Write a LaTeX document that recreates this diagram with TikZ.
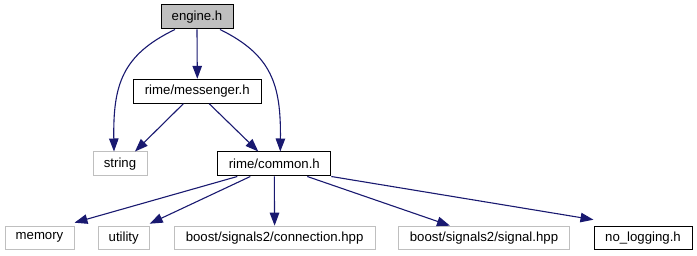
\documentclass[tikz,border=0pt]{standalone}
\usepackage{fontspec}
\setmainfont{Liberation Sans}
\usetikzlibrary{arrows.meta}
\definecolor{edgeblue}{HTML}{191970}
\definecolor{boxgray}{HTML}{BFBFBF}
\begin{document}
\begin{tikzpicture}[x=1pt,y=-1pt,
  file/.style={draw=black,line width=1pt,minimum height=24pt,inner sep=0pt,
    font=\fontsize{13.2}{15}\selectfont},
  extfile/.style={file,draw=boxgray,minimum height=23pt},
  rootfile/.style={file,fill=boxgray},
  dep/.style={draw=edgeblue,line width=1.1pt,
    -{Triangle[length=13pt,width=9.5pt,fill=edgeblue]}}]
\useasboundingbox (0,0) rectangle (697,256);

% include graph nodes
\node[rootfile,minimum width=72pt]  (engine)    at (197,17)    {engine.h};
\node[file,minimum width=128pt]     (messenger) at (197.3,91.3){rime/messenger.h};
\node[extfile,minimum width=54pt,minimum height=24pt] (string) at (120,164) {string};
\node[file,minimum width=113pt]     (common)    at (274.3,164) {rime/common.h};
\node[extfile,minimum width=69pt]   (memory)    at (39.5,237.7){memory};
\node[extfile,minimum width=51pt]   (utility)   at (123.7,237.7){utility};
\node[extfile,minimum width=201pt]  (connection) at (274.6,237.7){boost/signals2/connection.hpp};
\node[extfile,minimum width=171pt]  (signal)    at (484,237.7) {boost/signals2/signal.hpp};
\node[file,minimum width=98pt,minimum height=23pt] (nolog) at (643,237.7) {no\_logging.h};

% include edges
\draw[dep] ([xshift=-22pt]engine.south) .. controls (122,55) and (113,85) .. ([xshift=-6pt]string.north);
\draw[dep] (engine.south) -- (messenger.north);
\draw[dep] ([xshift=23pt]engine.south) .. controls (272,55) and (281,85) .. ([xshift=6pt]common.north);
\draw[dep] ([xshift=-14pt]messenger.south) -- ([xshift=15pt]string.north);
\draw[dep] ([xshift=12pt]messenger.south) -- ([xshift=-16pt]common.north);
\draw[dep] ([xshift=-37pt]common.south) -- ([yshift=3pt]memory.north east);
\draw[dep] ([xshift=-24pt]common.south) -- ([xshift=26pt,yshift=2pt]utility.north);
\draw[dep] (common.south) -- (connection.north);
\draw[dep] ([xshift=33pt]common.south) -- ([xshift=-34pt]signal.north);
\draw[dep] (common.south east) -- ([yshift=6pt]nolog.north west);
\end{tikzpicture}
\end{document}
